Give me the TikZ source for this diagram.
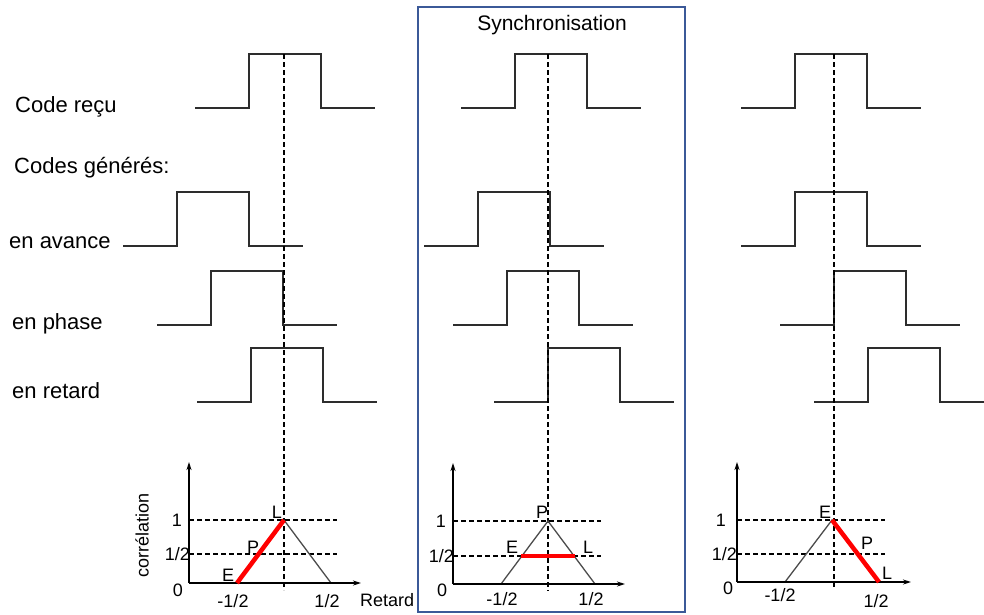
\documentclass[tikz,border=0pt]{standalone}
\usepackage{fontspec}
\setmainfont{Liberation Sans}
\usetikzlibrary{arrows.meta}

\definecolor{boxblue}{RGB}{59,89,152}
\definecolor{sig}{RGB}{45,45,45}

\tikzset{
  signal/.style={draw=sig, line width=1.6pt},
  guide/.style={line width=1.2pt, dash pattern=on 5pt off 3pt},
  axis/.style={line width=1.4pt, -{Stealth[length=8pt,width=5pt]}},
  corr/.style={draw=red, line width=4.5pt},
  tri/.style={draw=sig!85, line width=1.3pt},
  lab/.style={font=\fontsize{22}{25}\selectfont, anchor=base west, inner sep=0pt},
  tick/.style={font=\fontsize{18}{20}\selectfont, inner sep=0pt},
}

% creneau: abscisse du front montant, niveau bas
\newcommand{\pulsesig}[2]{%
  \draw[signal] (#1-54,#2) -- (#1,#2) -- (#1,#2-54) -- (#1+72,#2-54) -- (#1+72,#2) -- (#1+126,#2);}

\begin{document}
\begin{tikzpicture}[x=1pt,y=-1pt]
\useasboundingbox (0,0) rectangle (984,614);

%Libelles

\node[lab] (recu) at (15,112) {Code reçu};
\node[lab] (gen) at (14,173) {Codes générés:};
\node[lab] (avance) at (9,248) {en avance};
\node[lab] (phase) at (12,329) {en phase};
\node[lab] (retard) at (12,398) {en retard};

\draw[boxblue, line width=2pt] (418,7) rectangle (685,612);
\node[lab, font=\fontsize{21}{24}\selectfont, anchor=base] (sync) at (552,30) {Synchronisation};

%Codes

\foreach \r/\l in {249/108, 177/246, 211/325, 251/402,
                   515/108, 478/246, 507/325, 548/402,
                   795/108, 795/246, 834/325, 868/402}
  \pulsesig{\r}{\l};

%Correlation, cas 1

\begin{scope}[shift={(284,583)}]
\coordinate (o) at (-95,0);
\coordinate (t) at (-95,-121);
\coordinate (x) at (77,0);
\coordinate (p) at (0,-63);
\coordinate (a) at (-47,0);
\coordinate (b) at (47,0);

\draw[guide] (0,-529) -- (0,7);
\draw[guide] (o |- p) -- (53,-63);
\draw[guide] (-95,-29) -- (53,-29);
\draw[tri] (a) -- (p) -- (b);
\draw[axis] (o) -- (t);
\draw[axis] (o) -- (x);
\draw[corr] (a) -- (p);

\node[tick, anchor=east] (un) at (-102,-63) {1};
\node[tick, anchor=east] (demi) at (-94,-29) {1/2};
\node[tick] (zero) at (-106,7) {0};
\node[tick] (moins) at (-51,18) {-1/2};
\node[tick] (plus) at (43,18) {1/2};
\node[tick, anchor=west] (ret) at (76,17) {Retard};
\node[tick, rotate=90] (cor) at (-142,-48) {corrélation};
\node[tick] (L) at (-7,-71) {L};
\node[tick] (P) at (-31,-36) {P};
\node[tick] (E) at (-56,-8) {E};
\end{scope}

%Correlation, cas 2

\begin{scope}[shift={(548,584)}]
\coordinate (o) at (-95,0);
\coordinate (t) at (-95,-121);
\coordinate (x) at (77,0);
\coordinate (p) at (0,-63);
\coordinate (a) at (-47,0);
\coordinate (b) at (47,0);

\draw[guide] (0,-530) -- (0,7);
\draw[guide] (o |- p) -- (53,-63);
\draw[guide] (-95,-28) -- (53,-28);
\draw[tri] (a) -- (p) -- (b);
\draw[axis] (o) -- (t);
\draw[axis] (o) -- (x);
\draw[corr] (-27,-28) -- (27,-28);

\node[tick, anchor=east] (un) at (-102,-63) {1};
\node[tick, anchor=east] (demi) at (-94,-28) {1/2};
\node[tick] (zero) at (-106,6) {0};
\node[tick] (moins) at (-46,15) {-1/2};
\node[tick] (plus) at (43,15) {1/2};
\node[tick] (P) at (-6,-72) {P};
\node[tick] (E) at (-36,-37) {E};
\node[tick] (L) at (40,-37) {L};
\end{scope}

%Correlation, cas 3

\begin{scope}[shift={(834,582)}]
\coordinate (o) at (-97,0);
\coordinate (t) at (-97,-120);
\coordinate (x) at (77,0);
\coordinate (p) at (-2,-62);
\coordinate (a) at (-49,0);
\coordinate (b) at (45,0);

\draw[guide] (0,-528) -- (0,7);
\draw[guide] (o |- p) -- (51,-62);
\draw[guide] (-97,-28) -- (51,-28);
\draw[tri] (a) -- (p) -- (b);
\draw[axis] (o) -- (t);
\draw[axis] (o) -- (x);
\draw[corr] (p) -- (b);

\node[tick, anchor=east] (un) at (-108,-62) {1};
\node[tick, anchor=east] (demi) at (-97,-28) {1/2};
\node[tick] (zero) at (-106,6) {0};
\node[tick] (moins) at (-54,13) {-1/2};
\node[tick] (plus) at (42,19) {1/2};
\node[tick] (E) at (-9,-70) {E};
\node[tick] (P) at (33,-39) {P};
\node[tick] (L) at (53,-9) {L};
\end{scope}

\end{tikzpicture}
\end{document}
